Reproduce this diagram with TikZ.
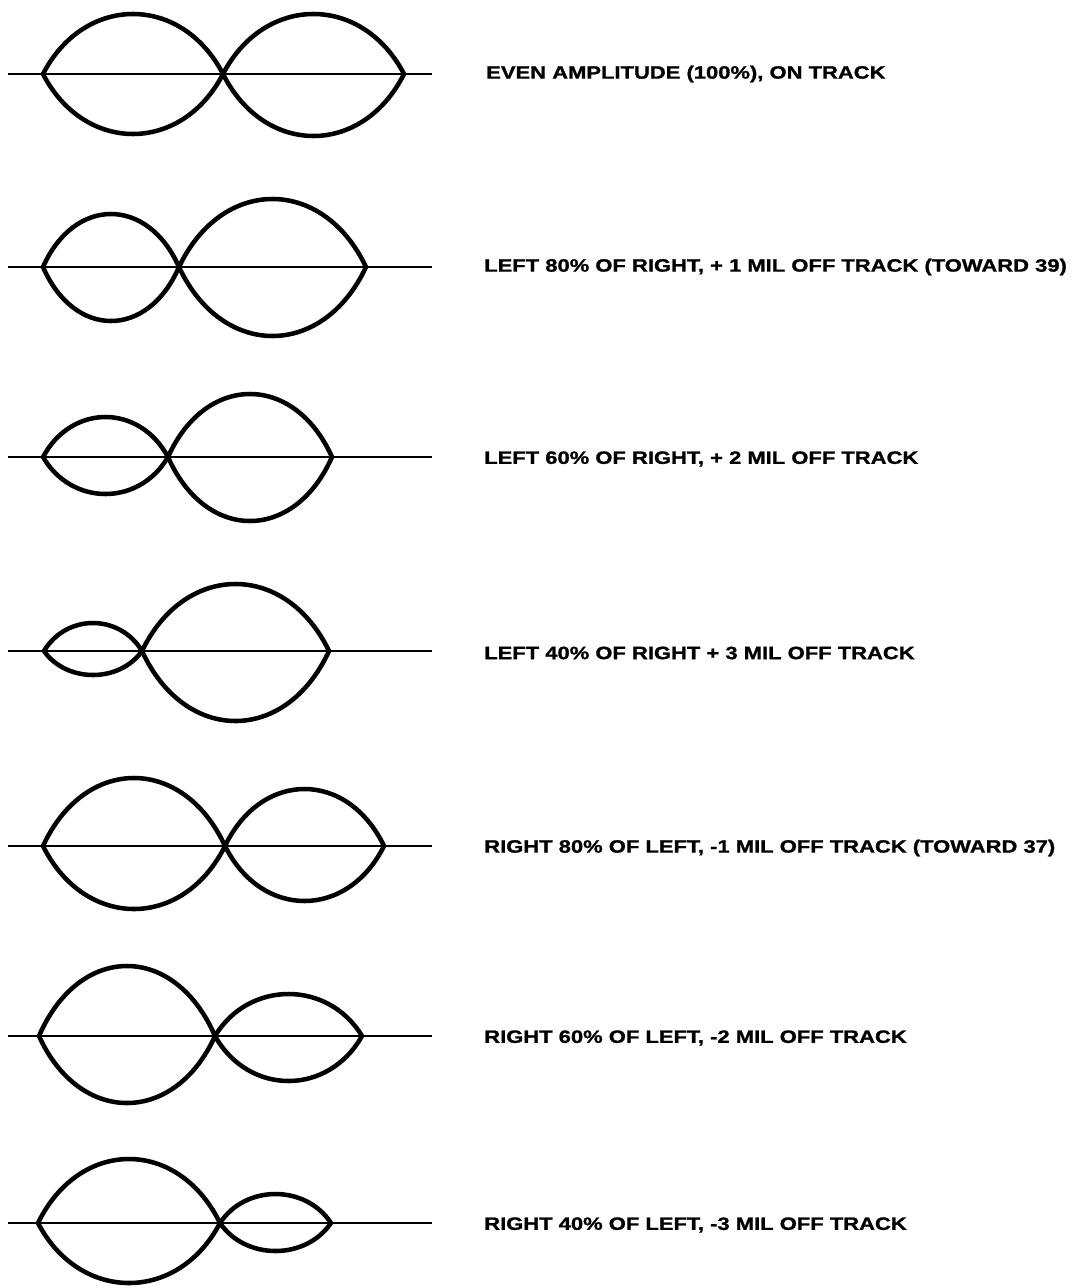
\documentclass[tikz,border=0pt]{standalone}
\usepackage{fontspec}
\setsansfont{Liberation Sans}[FakeStretch=1.23, FakeBold=1.2]
\usepackage{tikz}

\begin{document}
\begin{tikzpicture}[
    x=0.75pt, y=-0.75pt,
    font=\sffamily\bfseries\fontsize{13.4}{15}\selectfont,
    % Estilos: contorno grosso dos lobulos, eixo mais fino, rotulos a direita
    contorno/.style={line width=3.4pt, line join=round},
    eixo/.style={line width=1.9pt},
    rotulo/.style={anchor=west, inner sep=0pt}
]

% =========================================================
% === PARAMETROS DA GRADE (pixels da figura, y para baixo) ===
% =========================================================
\def\xIni{8}       % Inicio do eixo horizontal
\def\xFim{432}     % Fim do eixo horizontal
\def\xTexto{484}   % Margem esquerda dos rotulos
\def\kTan{0.23}    % Fracao da largura usada nos pontos de controle (ponta do lobulo)
% =========================================================

\useasboundingbox (0,0) rectangle (1075,1288);

% Macro para desenhar um lobulo (duas curvas que se cruzam no eixo)
% #1: Nome (gera os pontos #1a e #1b)
% #2, #3: X esquerdo e X direito
% #4: Y do eixo
% #5, #6: Altura acima e abaixo do eixo
\def\lobulo#1(#2,#3,#4)#5#6{
    \coordinate (#1a) at ({#2},{#4});
    \coordinate (#1b) at ({#3},{#4});
    \draw[contorno] (#1a)
        .. controls ({#2+\kTan*(#3-#2)},{#4-4/3*#5}) and ({#3-\kTan*(#3-#2)},{#4-4/3*#5}) .. (#1b)
        .. controls ({#3-\kTan*(#3-#2)},{#4+4/3*#6}) and ({#2+\kTan*(#3-#2)},{#4+4/3*#6}) .. cycle;
}

% Macro para o eixo de cada linha
% #1: Nome, #2: Y do eixo
\def\eixo#1#2{
    \coordinate (#1i) at (\xIni,{#2});
    \coordinate (#1f) at (\xFim,{#2});
    \draw[eixo] (#1i) -- (#1f);
}

% --- Linha 1 : amplitudes iguais ---
\eixo{E1}{74}
\lobulo{L1}(43,223,74){60}{60}
\lobulo{R1}(223,404,74){60}{62}
\node[rotulo] (T1) at (\xTexto+2,74) {EVEN AMPLITUDE (100\%), ON TRACK};

% --- Linha 2 : esquerda 80% ---
\eixo{E2}{267}
\lobulo{L2}(43,179,267){53}{54}
\lobulo{R2}(179,366,267){68}{69}
\node[rotulo] (T2) at (\xTexto,267) {LEFT 80\% OF RIGHT, + 1 MIL OFF TRACK (TOWARD 39)};

% --- Linha 3 : esquerda 60% ---
\eixo{E3}{457}
\lobulo{L3}(43,168,457){40}{37}
\lobulo{R3}(168,332,457){63}{64}
\node[rotulo] (T3) at (\xTexto,459) {LEFT 60\% OF RIGHT, + 2 MIL OFF TRACK};

% --- Linha 4 : esquerda 40% ---
\eixo{E4}{651}
\lobulo{L4}(44,142,651){28}{24}
\lobulo{R4}(142,329,651){67}{70}
\node[rotulo] (T4) at (\xTexto,653) {LEFT 40\% OF RIGHT + 3 MIL OFF TRACK};

% --- Linha 5 : direita 80% ---
\eixo{E5}{846}
\lobulo{L5}(43,225,846){68}{63}
\lobulo{R5}(225,384,846){57}{55}
\node[rotulo] (T5) at (\xTexto,848) {RIGHT 80\% OF LEFT, -1 MIL OFF TRACK (TOWARD 37)};

% --- Linha 6 : direita 60% ---
\eixo{E6}{1036}
\lobulo{L6}(39,215,1036){70}{67}
\lobulo{R6}(215,362,1036){42}{45}
\node[rotulo] (T6) at (\xTexto,1038) {RIGHT 60\% OF LEFT, -2 MIL OFF TRACK};

% --- Linha 7 : direita 40% ---
\eixo{E7}{1223}
\lobulo{L7}(38,220,1223){64}{60}
\lobulo{R7}(220,331,1223){29}{28}
\node[rotulo] (T7) at (\xTexto,1225) {RIGHT 40\% OF LEFT, -3 MIL OFF TRACK};

\end{tikzpicture}
\end{document}
